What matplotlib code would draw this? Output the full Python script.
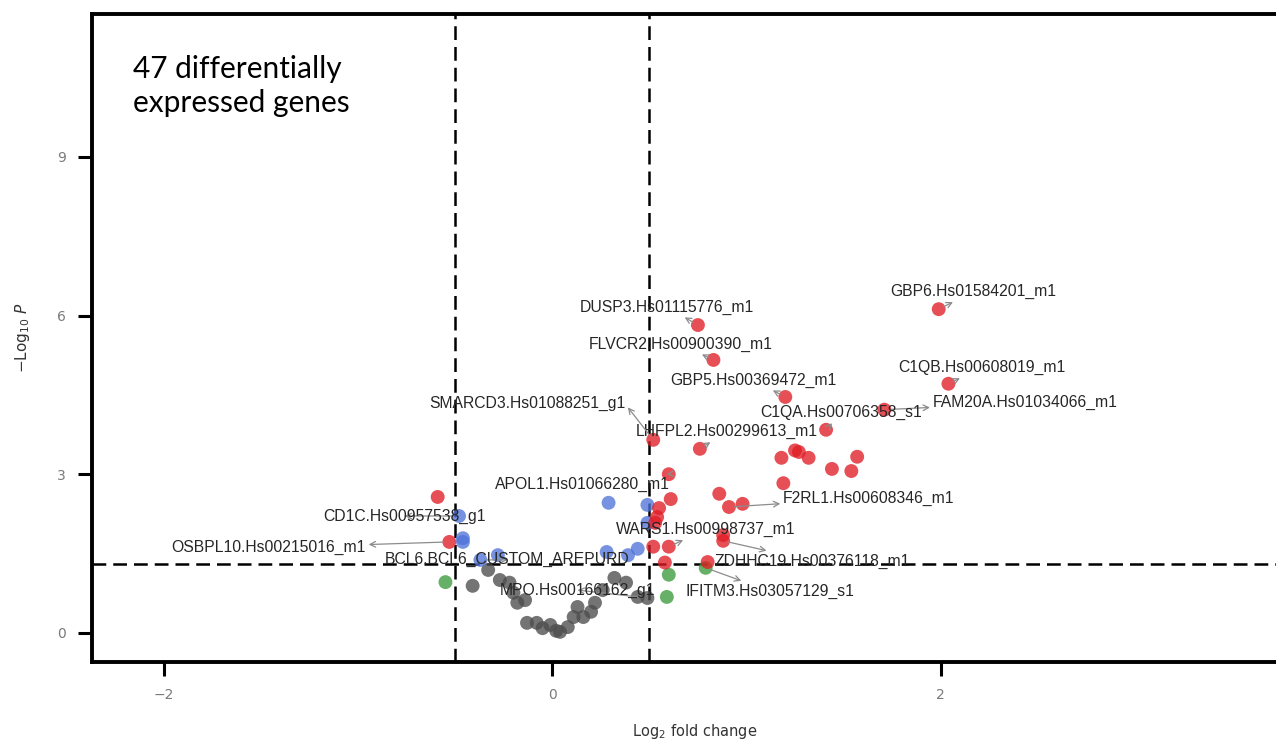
#!/usr/bin/env python
import matplotlib
matplotlib.use('Agg')
from matplotlib import pyplot as plt

#DATA: log2 fold change / -log10 P per group ----------------
# red: passes both fold change and P cut-offs
red_fc = [1.99, 2.04, 0.75, 0.83, 1.20, 1.71, 1.41, 0.76, 0.52, 0.60,
          0.91, 0.60, 0.88, -0.53,
          1.18, 1.25, 1.27, 1.32, 1.44, 1.54, 1.57, 1.19, 0.86, 0.98,
          0.61, 0.55, 0.54, 0.53, 0.52, 0.88, 0.58, 0.80, -0.59]
red_p = [6.12, 4.71, 5.82, 5.16, 4.46, 4.22, 3.84, 3.48, 3.65, 3.00,
         2.38, 1.63, 1.74, 1.72,
         3.31, 3.45, 3.42, 3.31, 3.10, 3.06, 3.33, 2.83, 2.63, 2.44,
         2.53, 2.36, 2.19, 2.08, 1.63, 1.85, 1.33, 1.34, 2.57]

# blue: P only
blue_fc = [-0.48, -0.37, -0.46, -0.46, -0.28, 0.29, 0.28, 0.39, 0.44, 0.49, 0.49]
blue_p = [2.21, 1.38, 1.79, 1.72, 1.47, 2.46, 1.53, 1.47, 1.59, 2.42, 2.08]

# green: fold change only
green_fc = [0.79, -0.55, 0.60, 0.59]
green_p = [1.23, 0.96, 1.10, 0.68]

# grey: not significant
grey_fc = [0.49, -0.41, -0.33, -0.27, -0.22, -0.20, -0.18, -0.14, -0.13, -0.08,
           0.02, 0.04, 0.08, 0.11, 0.16, 0.13, 0.22, 0.32, 0.38, 0.44,
           -0.01, -0.05, 0.20, 0.26]
grey_p = [0.66, 0.89, 1.19, 1.00, 0.95, 0.76, 0.57, 0.62, 0.19, 0.19,
          0.04, 0.02, 0.11, 0.30, 0.30, 0.49, 0.57, 1.04, 0.95, 0.68,
          0.15, 0.09, 0.40, 0.81]

# labelled genes: (name, group, index into that group)
lab_genes = [
    ('GBP6.Hs01584201_m1', 'red', 0),
    ('C1QB.Hs00608019_m1', 'red', 1),
    ('DUSP3.Hs01115776_m1', 'red', 2),
    ('FLVCR2.Hs00900390_m1', 'red', 3),
    ('GBP5.Hs00369472_m1', 'red', 4),
    ('FAM20A.Hs01034066_m1', 'red', 5),
    ('C1QA.Hs00706358_s1', 'red', 6),
    ('LHFPL2.Hs00299613_m1', 'red', 7),
    ('SMARCD3.Hs01088251_g1', 'red', 8),
    ('APOL1.Hs01066280_m1', 'red', 9),
    ('F2RL1.Hs00608346_m1', 'red', 10),
    ('WARS1.Hs00998737_m1', 'red', 11),
    ('ZDHHC19.Hs00376118_m1', 'red', 12),
    ('OSBPL10.Hs00215016_m1', 'red', 13),
    ('CD1C.Hs00957538_g1', 'blue', 0),
    ('BCL6.BCL6_CUSTOM_AREPURD', 'blue', 1),
    ('IFITM3.Hs03057129_s1', 'green', 0),
    ('MPO.Hs00166162_g1', 'grey', 0),
]
#--------------------------------------------------------------

#LAYOUT: label centres (data units) + arrow start on the label --
lab_xy = [(2.17, 6.45), (2.21, 5.01), (0.59, 6.16), (0.66, 5.46),
          (1.035, 4.78), (2.435, 4.35), (1.49, 4.16), (0.90, 3.80),
          (-0.13, 4.33), (0.155, 2.80), (1.63, 2.55), (0.79, 1.95),
          (1.34, 1.36), (-1.46, 1.61), (-0.76, 2.21), (-0.23, 1.38),
          (1.12, 0.79), (0.13, 0.81)]
lab_rel = [(0.5, 0.5)] * len(lab_xy)
lab_rel[8] = (1.0, 0.5)   # SMARCD3 arrow leaves from right end
#--------------------------------------------------------------

groups = {
    'grey': (grey_fc, grey_p, '#4d4d4d'),
    'green': (green_fc, green_p, '#3c9a3c'),
    'blue': (blue_fc, blue_p, '#4f74d9'),
    'red': (red_fc, red_p, '#e01e26'),
}

fig = plt.figure(figsize=(12.76, 7.44), dpi=100)
ax = fig.add_axes([92/1276, 1-662/744, (1298-92)/1276, (662-14)/744])

for key in ['grey', 'green', 'blue', 'red']:
    fc, p, col = groups[key]
    ax.scatter(fc, p, s=100, color=col, alpha=0.78, edgecolors='none', zorder=3)

# cut-off lines
ax.axvline(-0.5, color='black', lw=1.8, ls=(0, (5.5, 2.8)), zorder=2)
ax.axvline(0.5, color='black', lw=1.8, ls=(0, (5.5, 2.8)), zorder=2)
ax.axhline(1.3, color='black', lw=1.8, ls=(0, (5.5, 2.8)), zorder=2)

for (name, grp, i), (tx, ty), rel in zip(lab_genes, lab_xy, lab_rel):
    fc, p, col = groups[grp]
    ax.annotate(name, xy=(fc[i], p[i]), xytext=(tx, ty),
                ha='center', va='center', fontsize=11.3, color='#262626',
                family='Liberation Sans', zorder=4,
                arrowprops=dict(arrowstyle='<-, head_length=0.35, head_width=0.18',
                                color='#8c8c8c', lw=0.9, shrinkA=0, shrinkB=4,
                                relpos=rel))

ax.set_xlim(-2.37, 3.84)
ax.set_ylim(-0.55, 11.7)
ax.set_xticks([-2, 0, 2])
ax.set_xticklabels(['\u22122', '0', '2'])
ax.set_yticks([0, 3, 6, 9])

for s in ['left', 'bottom', 'top', 'right']:
    ax.spines[s].set_linewidth(2.8)
ax.tick_params(length=10, width=2.2, pad=9, labelsize=10, labelcolor='#7a7a7a',
               color='black')

ax.set_xlabel(r'Log$_2$ fold change', fontsize=10.5, color='#333333', labelpad=14)
ax.set_ylabel(r'$-\mathrm{Log}_{10}\ \mathit{P}$', fontsize=11, color='#333333')
ax.yaxis.set_label_coords(-0.05, 0.5)

fig.text(133/1276, 1-55/744, '47 differentially\nexpressed genes',
         fontsize=21.5, family='Lato', color='black', ha='left', va='top',
         linespacing=1.25)

plt.savefig('out.png', dpi=100)
